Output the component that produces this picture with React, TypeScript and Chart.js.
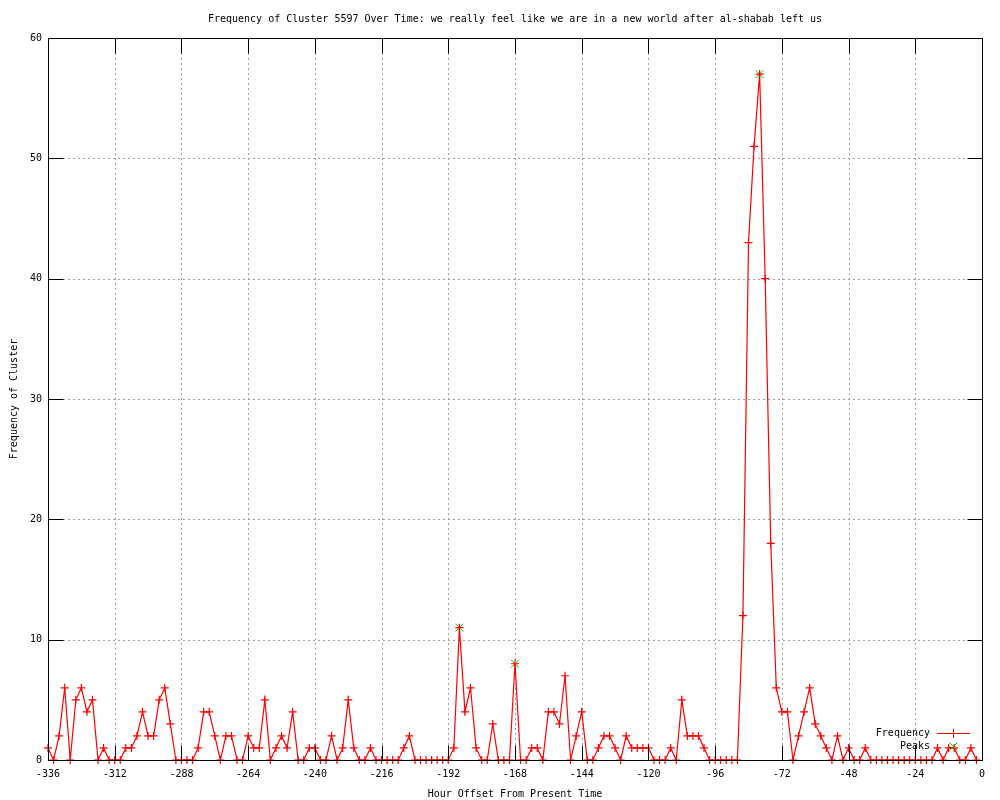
import React, { useEffect, useRef } from "react";
import { Chart, registerables } from "chart.js";

Chart.register(...registerables);

const TITLE =
  "Frequency of Cluster 5597 Over Time: we really feel like we are in a new world after al-shabab left us";
const X_TITLE = "Hour Offset From Present Time";
const Y_TITLE = "Frequency of Cluster";

const START_HOUR = -336;
const HOUR_STEP = 2;

// Frequency values, one per 2-hour bucket from -336 to -2
const frequency = [
  1, 0, 2, 6, 0, 5, 6, 4, 5, 0, 1, 0,
  0, 0, 1, 1, 2, 4, 2, 2, 5, 6, 3, 0,
  0, 0, 0, 1, 4, 4, 2, 0, 2, 2, 0, 0,
  2, 1, 1, 5, 0, 1, 2, 1, 4, 0, 0, 1,
  1, 0, 0, 2, 0, 1, 5, 1, 0, 0, 1, 0,
  0, 0, 0, 0, 1, 2, 0, 0, 0, 0, 0, 0,
  0, 1, 11, 4, 6, 1, 0, 0, 3, 0, 0, 0,
  8, 0, 0, 1, 1, 0, 4, 4, 3, 7, 0, 2,
  4, 0, 0, 1, 2, 2, 1, 0, 2, 1, 1, 1,
  1, 0, 0, 0, 1, 0, 5, 2, 2, 2, 1, 0,
  0, 0, 0, 0, 0, 12, 43, 51, 57, 40, 18, 6,
  4, 4, 0, 2, 4, 6, 3, 2, 1, 0, 2, 0,
  1, 0, 0, 1, 0, 0, 0, 0, 0, 0, 0, 0,
  0, 0, 0, 0, 1, 0, 1, 1, 0, 0, 1, 0,
];

const peakHours = [-188, -168, -80];
const peakValues = [11, 8, 57];

const xTicks = [-336, -312, -288, -264, -240, -216, -192, -168, -144, -120, -96, -72, -48, -24, 0];
const yTicks = [0, 10, 20, 30, 40, 50, 60];

const FONT_FAMILY = "'DejaVu Sans Mono', monospace";
const RED = "#ff0000";
const GREEN = "#00c000";
const TIC = 15;

const framePlugin = {
  id: "gnuFrame",
  beforeDatasetsDraw(chart: any) {
    const { ctx, chartArea: a, scales } = chart;
    const x = scales.x;
    const y = scales.y;
    ctx.save();
    ctx.strokeStyle = "#a0a0a0";
    ctx.lineWidth = 1;
    ctx.setLineDash([2, 3]);
    xTicks.forEach((v) => {
      if (v === x.min || v === x.max) return;
      const px = Math.round(x.getPixelForValue(v)) + 0.5;
      ctx.beginPath();
      ctx.moveTo(px, a.top);
      ctx.lineTo(px, a.bottom);
      ctx.stroke();
    });
    yTicks.forEach((v) => {
      if (v === y.min || v === y.max) return;
      const py = Math.round(y.getPixelForValue(v)) + 0.5;
      ctx.beginPath();
      ctx.moveTo(a.left, py);
      ctx.lineTo(a.right, py);
      ctx.stroke();
    });
    ctx.restore();
  },
  afterDatasetsDraw(chart: any) {
    const { ctx, chartArea: a, scales } = chart;
    const x = scales.x;
    const y = scales.y;
    const L = Math.round(a.left) + 0.5;
    const R = Math.round(a.right) + 0.5;
    const T = Math.round(a.top) + 0.5;
    const B = Math.round(a.bottom) + 0.5;
    ctx.save();
    ctx.strokeStyle = "#000";
    ctx.lineWidth = 1;
    ctx.setLineDash([]);
    ctx.strokeRect(L, T, R - L, B - T);
    ctx.beginPath();
    xTicks.forEach((v) => {
      const px = Math.round(x.getPixelForValue(v)) + 0.5;
      ctx.moveTo(px, B);
      ctx.lineTo(px, B - TIC);
      ctx.moveTo(px, T);
      ctx.lineTo(px, T + TIC);
    });
    yTicks.forEach((v) => {
      const py = Math.round(y.getPixelForValue(v)) + 0.5;
      ctx.moveTo(L, py);
      ctx.lineTo(L + TIC, py);
      ctx.moveTo(R, py);
      ctx.lineTo(R - TIC, py);
    });
    ctx.stroke();

    // titles
    ctx.fillStyle = "#000";
    ctx.font = `10px ${FONT_FAMILY}`;
    ctx.textAlign = "center";
    ctx.textBaseline = "alphabetic";
    const cx = (a.left + a.right) / 2;
    ctx.fillText(TITLE, cx, 22);
    ctx.fillText(X_TITLE, cx, 797);
    ctx.save();
    ctx.translate(17, (a.top + a.bottom) / 2);
    ctx.rotate(-Math.PI / 2);
    ctx.fillText(Y_TITLE, 0, 0);
    ctx.restore();

    // legend
    const labels = chart.data.datasets.map((d: any) => d.label);
    ctx.textAlign = "right";
    ctx.textBaseline = "middle";
    const textX = 930;
    const rows = [733, 746];
    ctx.fillText(labels[0], textX, rows[0]);
    ctx.fillText(labels[1], textX, rows[1]);
    const sx = 953;
    ctx.fillStyle = RED;
    ctx.fillRect(937, rows[0], 33, 1);
    ctx.fillRect(sx, rows[0] - 4, 1, 9);
    ctx.strokeStyle = GREEN;
    ctx.beginPath();
    ctx.moveTo(sx + 0.5 - 4, rows[1] + 0.5 - 4);
    ctx.lineTo(sx + 0.5 + 4, rows[1] + 0.5 + 4);
    ctx.moveTo(sx + 0.5 - 4, rows[1] + 0.5 + 4);
    ctx.lineTo(sx + 0.5 + 4, rows[1] + 0.5 - 4);
    ctx.stroke();
    ctx.restore();
  },
};

export default function App() {
  const ref = useRef<HTMLCanvasElement | null>(null);
  useEffect(() => {
    document.body.style.margin = "0";
    const canvas = ref.current;
    if (!canvas) return;
    const tickFont = { family: FONT_FAMILY, size: 10 };
    const chart = new Chart(canvas, {
      type: "line",
      data: {
        datasets: [
          {
            label: "Frequency",
            data: frequency.map((v, i) => ({ x: START_HOUR + i * HOUR_STEP, y: v })),
            borderColor: RED,
            backgroundColor: RED,
            borderWidth: 1.2,
            pointStyle: "cross",
            pointRadius: 4,
            pointHoverRadius: 4,
            pointBorderColor: RED,
            pointBorderWidth: 1.2,
            tension: 0,
            fill: false,
            clip: false,
          } as any,
          {
            label: "Peaks",
            data: peakHours.map((h, i) => ({ x: h, y: peakValues[i] })),
            showLine: false,
            borderColor: GREEN,
            backgroundColor: GREEN,
            pointStyle: "crossRot",
            pointRadius: 5.5,
            pointHoverRadius: 5.5,
            pointBorderColor: GREEN,
            pointBorderWidth: 1,
            clip: false,
          } as any,
        ],
      },
      options: {
        responsive: false,
        animation: false,
        events: [],
        layout: { padding: { top: 38, right: 18, left: 0, bottom: 0 } },
        plugins: {
          legend: { display: false },
          title: { display: false },
          tooltip: { enabled: false },
        },
        scales: {
          x: {
            type: "linear",
            min: -336,
            max: 0,
            afterBuildTicks: (s: any) => {
              s.ticks = xTicks.map((v) => ({ value: v }));
            },
            afterFit: (s: any) => {
              s.height = 40;
            },
            grid: { display: false, drawTicks: false },
            border: { display: false },
            ticks: {
              font: tickFont,
              color: "#000",
              padding: 8,
              maxRotation: 0,
              autoSkip: false,
              callback: (v: any) => String(v),
            },
          },
          y: {
            type: "linear",
            min: 0,
            max: 60,
            afterBuildTicks: (s: any) => {
              s.ticks = yTicks.map((v) => ({ value: v }));
            },
            afterFit: (s: any) => {
              s.width = 48;
            },
            grid: { display: false, drawTicks: false },
            border: { display: false },
            ticks: {
              font: tickFont,
              color: "#000",
              padding: 6,
              autoSkip: false,
              callback: (v: any) => String(v),
            },
          },
        },
      },
      plugins: [framePlugin],
    });
    return () => chart.destroy();
  }, []);
  return (
    <div style={{ width: 1000, height: 800, background: "#fff" }}>
      <canvas ref={ref} width={1000} height={800} style={{ display: "block" }} />
    </div>
  );
}
